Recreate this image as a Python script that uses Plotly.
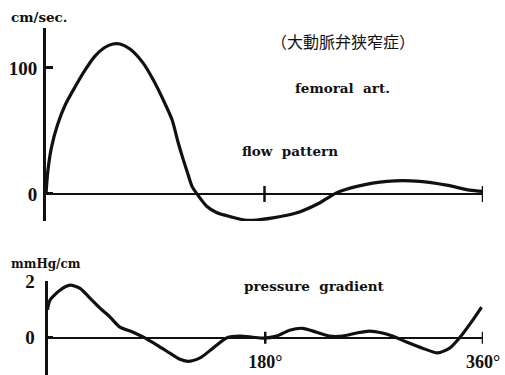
import plotly.graph_objects as go

# ---- data ----
flow_deg = [0, 1.5, 4.5, 9.5, 16, 24, 32, 40, 48, 55.2, 61, 69.2, 79.9, 88.1, 96.4,
            103.8, 108.5, 112.5, 116.5, 120.3, 124.4, 132.6, 140.9, 151.6, 165.6, 187, 206.8,
            225.7, 239.7, 256.2, 281, 308, 330, 349, 360]
flow_val = [0, 18, 37, 55, 71, 85, 98, 109, 116, 119, 119, 115, 104, 91, 75,
            59, 42, 29, 17, 6, 0, -10, -15, -18, -21, -19, -15,
            -7, 1, 6, 10, 10, 7, 3, 2]

pres_deg = [0, 2.1, 10.3, 18.6, 26.9, 35.1, 43.4, 51.7, 59.9, 70.7, 78.9, 90.5, 101.2, 109,
            116, 126.1, 136.8, 148.4, 159.1, 169.8, 178.6, 189.4, 200.1, 210.8, 222.4, 233.1,
            243.9, 255.4, 266.2, 276.9, 285.2, 296.8, 310, 322.4, 332.4, 340.6, 350.5, 358.8]
pres_val = [1.0, 1.35, 1.7, 1.88, 1.77, 1.42, 1.06, 0.74, 0.38, 0.2, 0.03, -0.26, -0.55, -0.76,
            -0.84, -0.72, -0.37, 0, 0.06, 0.02, -0.01, 0.06, 0.27, 0.34, 0.2, 0.06,
            0.06, 0.17, 0.24, 0.17, 0.06, -0.15, -0.37, -0.54, -0.37, 0, 0.57, 1.1]

flow_ticks = [0, 100]
flow_ticktext = ["0", "100"]
pres_ticks = [0, 2]
pres_ticktext = ["0", "2"]
x_ticks = [180, 360]
x_ticktext = ["180°", "360°"]

W, H = 505, 375
SERIF = "Liberation Serif"
LABEL = "DejaVu Serif"
BLACK = "#111111"


def py(px):  # pixel row -> paper y
    return (H - px) / H


def pxx(px):
    return px / W


fig = go.Figure()
fig.add_trace(go.Scatter(x=flow_deg, y=flow_val, mode="lines",
                         line=dict(color=BLACK, width=3.2, shape="spline", smoothing=0.7),
                         xaxis="x", yaxis="y", showlegend=False, hoverinfo="skip"))
fig.add_trace(go.Scatter(x=pres_deg, y=pres_val, mode="lines",
                         line=dict(color=BLACK, width=3.2, shape="spline", smoothing=0.7),
                         xaxis="x2", yaxis="y2", showlegend=False, hoverinfo="skip"))

tickfont = dict(family=SERIF, size=19, color=BLACK, weight="bold")

fig.update_layout(
    width=W, height=H, autosize=False,
    margin=dict(l=0, r=0, t=0, b=0),
    paper_bgcolor="white", plot_bgcolor="white",
    xaxis=dict(domain=[pxx(46), pxx(483)], range=[0, 360], anchor="free", position=py(194),
               showline=True, linecolor=BLACK, linewidth=2, showgrid=False, zeroline=False,
               showticklabels=False, ticks="", automargin=False),
    yaxis=dict(domain=[py(221), py(28)], range=[-21.5, 131.7], anchor="x",
               showline=True, linecolor=BLACK, linewidth=3, showgrid=False, zeroline=False,
               tickvals=flow_ticks, ticktext=flow_ticktext, ticks="inside", ticklen=7,
               tickwidth=2.5, tickcolor=BLACK, tickfont=tickfont, automargin=False,
               ticklabelstandoff=2),
    xaxis2=dict(domain=[pxx(47.5), pxx(483)], range=[0, 360], anchor="free",
                position=py(337.7),
                showline=True, linecolor=BLACK, linewidth=2, showgrid=False, zeroline=False,
                tickvals=x_ticks, ticktext=x_ticktext, ticks="", tickfont=dict(tickfont, size=18),
                automargin=False, ticklabelstandoff=8),
    yaxis2=dict(domain=[0, py(281)], range=[-1.33, 2.03], anchor="x2",
                showline=True, linecolor=BLACK, linewidth=3, showgrid=False, zeroline=False,
                tickvals=pres_ticks, ticktext=pres_ticktext, ticks="inside", ticklen=5,
                tickwidth=2.5, tickcolor=BLACK, tickfont=tickfont, automargin=False,
                ticklabelstandoff=6),
)

shapes = []
for xv in x_ticks:
    shapes.append(dict(type="line", xref="x", yref="y", x0=xv, x1=xv, ysizemode="pixel",
                       yanchor=0, y0=-8, y1=8, line=dict(color=BLACK, width=2.5)))
    shapes.append(dict(type="line", xref="x2", yref="y2", x0=xv, x1=xv, ysizemode="pixel",
                       yanchor=0, y0=-6, y1=6, line=dict(color=BLACK, width=2.5)))
fig.update_layout(shapes=shapes)

lab = dict(family=LABEL, color=BLACK, weight="bold")
ann = [
    dict(text="cm/sec.", x=pxx(39), y=py(17), font=dict(lab, size=13.5)),
    dict(text="（大動脈弁狭窄症）", x=pxx(343), y=py(41),
         font=dict(family="Noto Sans CJK JP", size=16, color=BLACK)),
    dict(text="femoral\u00a0 art.", x=pxx(342), y=py(88), font=dict(lab, size=13.5)),
    dict(text="flow\u00a0 pattern", x=pxx(290), y=py(151), font=dict(lab, size=13.5)),
    dict(text="mmHg/cm", x=pxx(46), y=py(264), font=dict(lab, size=12)),
    dict(text="pressure\u00a0 gradient", x=pxx(314), y=py(286), font=dict(lab, size=13.5)),
]
for a in ann:
    a.update(xref="paper", yref="paper", xanchor="center", yanchor="middle", showarrow=False)
fig.update_layout(annotations=ann)

fig.write_html("out.html", config={"displayModeBar": False},
               post_script="document.body.style.margin='0';document.body.style.overflow='hidden';")
